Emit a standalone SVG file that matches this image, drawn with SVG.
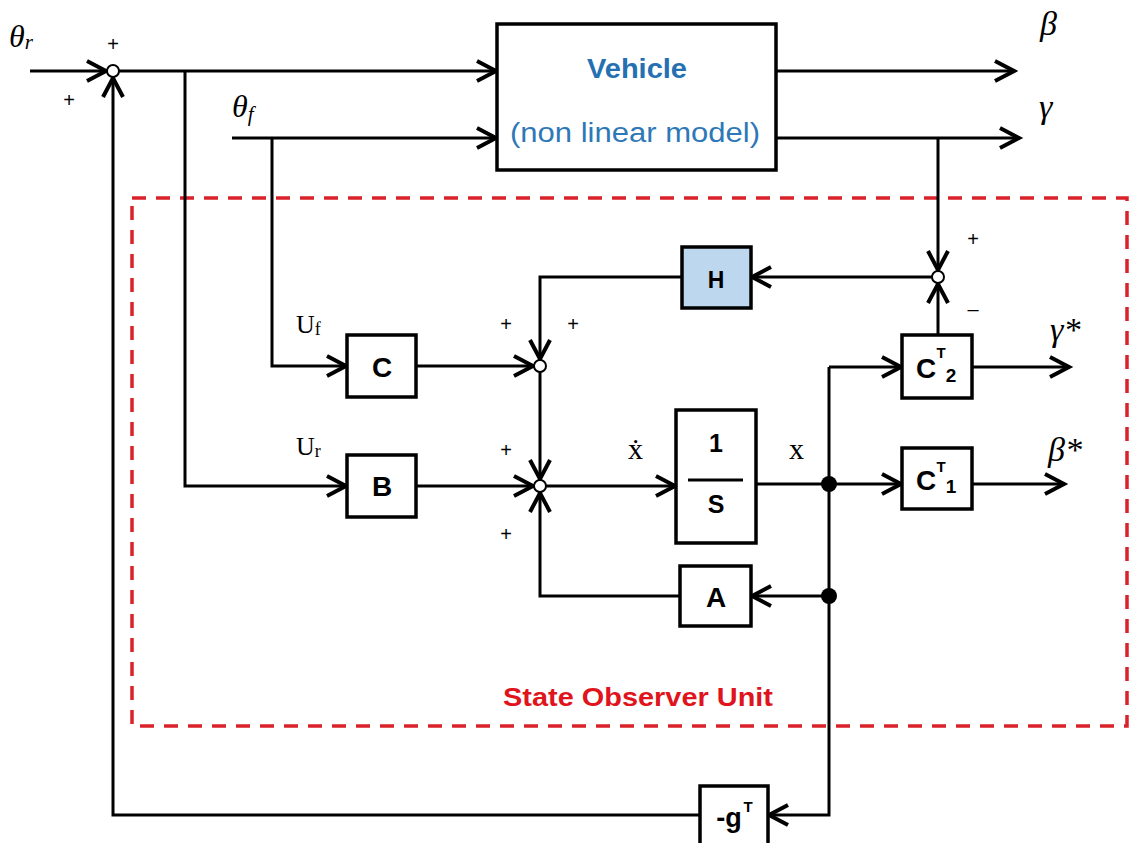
<svg xmlns="http://www.w3.org/2000/svg" width="1129" height="843" viewBox="0 0 1129 843">
<defs>
<marker id="arr" markerUnits="userSpaceOnUse" markerWidth="28" markerHeight="28" viewBox="0 0 28 28" refX="24" refY="14" orient="auto">
<path d="M4,4 L23,14 L4,24" fill="none" stroke="#000" stroke-width="4" stroke-linejoin="miter"/>
</marker>
<style>
.ln{fill:none;stroke:#000;stroke-width:3}
.bx{fill:#fff;stroke:#000;stroke-width:3.5}
.sum{fill:#fff;stroke:#000;stroke-width:2}
.lbl{font-family:"Liberation Sans",Arial,sans-serif;font-weight:bold;fill:#000;text-anchor:middle}
.tm{font-family:"Liberation Serif","Times New Roman",serif;fill:#000}
.gr{font-family:"Liberation Serif","Times New Roman",serif;font-style:italic;fill:#000}
.pm{font-family:"Liberation Sans",Arial,sans-serif;font-size:20px;fill:#000;text-anchor:middle}
</style>
</defs>
<rect width="1129" height="843" fill="#fff"/>

<g id="observer-frame">
<rect x="132" y="198" width="995" height="528" fill="none" stroke="#d9222a" stroke-width="3.5" stroke-dasharray="14,10"/>
<text x="638" y="706" font-family="'Liberation Sans',Arial,sans-serif" font-weight="bold" font-size="25" fill="#e0141c" text-anchor="middle" textLength="270" lengthAdjust="spacingAndGlyphs">State Observer Unit</text>
</g>

<g id="connectors">
<path class="ln" d="M30,71 L107,71" marker-end="url(#arr)"/>
<path class="ln" d="M119,71 L497,71" marker-end="url(#arr)"/>
<path class="ln" d="M185,71 L185,486 L347,486" marker-end="url(#arr)"/>
<path class="ln" d="M232,138 L497,138" marker-end="url(#arr)"/>
<path class="ln" d="M272,138 L272,366 L347,366" marker-end="url(#arr)"/>
<path class="ln" d="M776,71 L1015,71" marker-end="url(#arr)"/>
<path class="ln" d="M776,138 L1020,138" marker-end="url(#arr)"/>
<path class="ln" d="M938,138 L938,271" marker-end="url(#arr)"/>
<path class="ln" d="M932,277 L751,277" marker-end="url(#arr)"/>
<path class="ln" d="M682,277 L540,277 L540,360" marker-end="url(#arr)"/>
<path class="ln" d="M416,366 L534,366" marker-end="url(#arr)"/>
<path class="ln" d="M540,372 L540,480" marker-end="url(#arr)"/>
<path class="ln" d="M416,486 L534,486" marker-end="url(#arr)"/>
<path class="ln" d="M546,486 L676,486" marker-end="url(#arr)"/>
<path class="ln" d="M756,484 L902,484" marker-end="url(#arr)"/>
<path class="ln" d="M829,367 L902,367" marker-end="url(#arr)"/>
<path class="ln" d="M829,367 L829,815 L768,815" marker-end="url(#arr)"/>
<path class="ln" d="M829,596 L751,596" marker-end="url(#arr)"/>
<path class="ln" d="M680,596 L540,596 L540,492" marker-end="url(#arr)"/>
<path class="ln" d="M938,335 L938,283" marker-end="url(#arr)"/>
<path class="ln" d="M972,367 L1070,367" marker-end="url(#arr)"/>
<path class="ln" d="M972,484 L1065,484" marker-end="url(#arr)"/>
<path class="ln" d="M700,815 L113,815 L113,77" marker-end="url(#arr)"/>
<circle cx="829" cy="484" r="8" fill="#000"/>
<circle cx="829" cy="596" r="8" fill="#000"/>
</g>

<g id="sum1">
<circle class="sum" cx="113" cy="71" r="6"/>
<text class="pm" x="113" y="51">+</text>
<text class="pm" x="69" y="107">+</text>
</g>
<g id="sum2">
<circle class="sum" cx="540" cy="366" r="6"/>
<text class="pm" x="506" y="331">+</text>
<text class="pm" x="573" y="331">+</text>
</g>
<g id="sum3">
<circle class="sum" cx="540" cy="486" r="6"/>
<text class="pm" x="506" y="457">+</text>
<text class="pm" x="506" y="541">+</text>
</g>
<g id="sum4">
<circle class="sum" cx="938" cy="277" r="6"/>
<text class="pm" x="973" y="246">+</text>
<text class="pm" x="973" y="316">–</text>
</g>

<g id="vehicle">
<rect class="bx" x="497" y="24" width="279" height="146"/>
<text x="637" y="78" font-family="'Liberation Sans',Arial,sans-serif" font-weight="bold" font-size="27" fill="#2470b3" text-anchor="middle" textLength="100" lengthAdjust="spacingAndGlyphs">Vehicle</text>
<text x="635" y="142" font-family="'Liberation Sans',Arial,sans-serif" font-size="27" fill="#2e78b8" text-anchor="middle" textLength="250" lengthAdjust="spacingAndGlyphs">(non linear model)</text>
</g>

<g id="H">
<rect x="682" y="247" width="69" height="61" fill="#bdd7ee" stroke="#000" stroke-width="3.5"/>
<text class="lbl" x="716" y="288" font-size="23">H</text>
</g>
<g id="C">
<rect class="bx" x="347" y="335" width="69" height="62"/>
<text class="lbl" x="382" y="377" font-size="28">C</text>
</g>
<g id="B">
<rect class="bx" x="347" y="455" width="69" height="62"/>
<text class="lbl" x="382" y="496" font-size="28">B</text>
</g>
<g id="integrator">
<rect class="bx" x="676" y="410" width="80" height="133"/>
<text class="lbl" x="716" y="452" font-size="25">1</text>
<line x1="688" y1="480" x2="743" y2="480" stroke="#000" stroke-width="3"/>
<text class="lbl" x="716" y="513" font-size="25">S</text>
</g>
<g id="CT2">
<rect class="bx" x="902" y="335" width="70" height="63"/>
<text class="lbl" x="926" y="378" font-size="28">C</text>
<text class="lbl" x="941" y="358" font-size="15">T</text>
<text class="lbl" x="951" y="382" font-size="19">2</text>
</g>
<g id="CT1">
<rect class="bx" x="902" y="448" width="70" height="61"/>
<text class="lbl" x="926" y="490" font-size="28">C</text>
<text class="lbl" x="941" y="472" font-size="15">T</text>
<text class="lbl" x="951" y="493" font-size="19">1</text>
</g>
<g id="A">
<rect class="bx" x="680" y="566" width="71" height="60"/>
<text class="lbl" x="716" y="607" font-size="28">A</text>
</g>
<g id="gT">
<rect class="bx" x="700" y="786" width="68" height="70"/>
<text class="lbl" x="729" y="827" font-size="27">-g</text>
<text class="lbl" x="748" y="812" font-size="15">T</text>
</g>

<g id="labels">
<text class="gr" x="9" y="47" font-size="32">θ<tspan font-size="21" dy="2">r</tspan></text>
<text class="gr" x="232" y="117" font-size="32">θ<tspan font-size="21" dy="4">f</tspan></text>
<text class="gr" x="1040" y="35" font-size="34">β</text>
<text class="gr" x="1039" y="118" font-size="34">γ</text>
<text class="gr" x="1050" y="341" font-size="34">γ*</text>
<text class="gr" x="1048" y="461" font-size="34">β*</text>
<text class="tm" x="296" y="333" font-size="26">U<tspan font-size="18" dy="2">f</tspan></text>
<text class="tm" x="296" y="455" font-size="26">U<tspan font-size="18" dy="2">r</tspan></text>
<text class="tm" x="628" y="459" font-size="30">ẋ</text>
<text class="tm" x="789" y="459" font-size="30">x</text>
</g>
</svg>
